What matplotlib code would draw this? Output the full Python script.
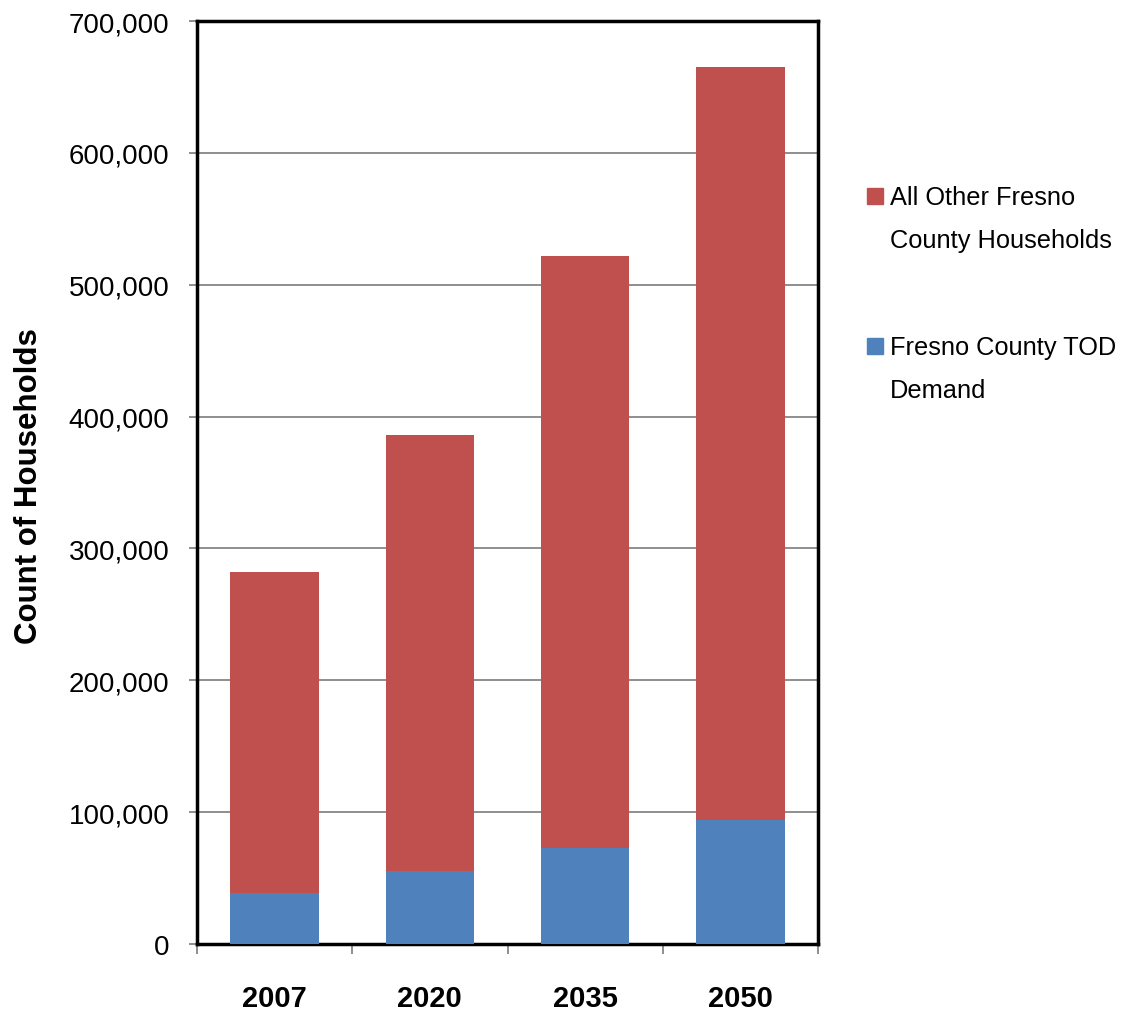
import matplotlib
matplotlib.use("Agg")
import matplotlib.pyplot as plt
from matplotlib.patches import Rectangle
from matplotlib.ticker import FuncFormatter, FixedLocator

plt.rcParams['font.family'] = ['Liberation Sans', 'DejaVu Sans']

years = ["2007", "2020", "2035", "2050"]
tod_demand = [39000, 55000, 73000, 94000]
other_households = [243000, 331000, 449000, 571000]
series_labels = ["All Other Fresno\nCounty Households", "Fresno County TOD\nDemand"]
y_ticks = [0, 100000, 200000, 300000, 400000, 500000, 600000, 700000]

RED = "#C0504D"
BLUE = "#4F81BD"

fig = plt.figure(figsize=(11.36, 10.12), dpi=100)
ax = fig.add_axes([197/1136, 1-945/1012, (818-197)/1136, (945-22)/1012])

x = list(range(len(years)))
ax.bar(x, tod_demand, width=0.57, color=BLUE, zorder=3)
ax.bar(x, other_households, width=0.57, bottom=tod_demand, color=RED, zorder=3)

ax.set_xlim(-0.5, len(years) - 0.5)
ax.set_ylim(0, 700000)
ax.yaxis.set_major_locator(FixedLocator(y_ticks))
ax.yaxis.set_major_formatter(FuncFormatter(lambda v, p: f"{int(v):,}"))
ax.grid(axis='y', color='#868686', linewidth=1.3, zorder=0)
ax.set_axisbelow(True)

ax.set_xticks(x)
ax.set_xticklabels(years, fontsize=21, fontweight='bold')
ax.set_xticks([i - 0.5 for i in range(len(years) + 1)], minor=True)
ax.tick_params(axis='x', which='major', length=0, pad=29)
ax.tick_params(axis='x', which='minor', length=7, width=1.3, color='#868686', direction='out')
ax.tick_params(axis='y', length=6, width=1.3, color='#868686', direction='out', labelsize=20, pad=14)

for s in ax.spines.values():
    s.set_color('black')
    s.set_linewidth(2.5)

fig.text(29/1136, 1-486/1012, "Count of Households", rotation=90, fontsize=22.5,
         fontweight='bold', ha='center', va='center')

# legend
colors = [RED, BLUE]
legend_y = [197, 347]
for lab, col, yc in zip(series_labels, colors, legend_y):
    fig.patches.append(Rectangle((867/1136, 1-(yc+8)/1012), 16/1136, 16/1012,
                                 transform=fig.transFigure, color=col))
    l1, l2 = lab.split("\n")
    fig.text(890/1136, 1-(yc+1)/1012, l1, fontsize=18.3, ha='left', va='center')
    fig.text(890/1136, 1-(yc+44)/1012, l2, fontsize=18.3, ha='left', va='center')

fig.savefig("out.png", dpi=100)
